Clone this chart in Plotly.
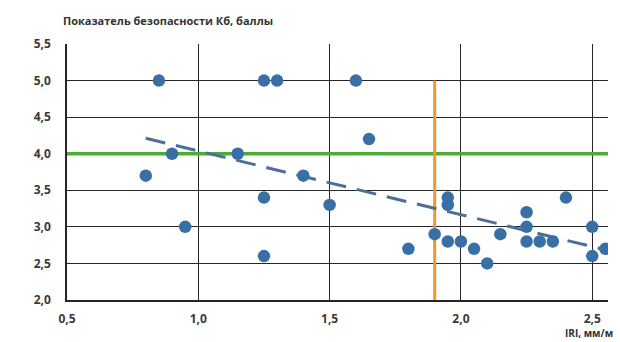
import numpy as np
import plotly.graph_objects as go

# Road roughness (IRI, mm/m) and safety score Kb (points)
iri = [0.85, 1.25, 1.30, 1.60, 1.65, 1.15, 0.90, 0.80, 1.40, 1.25, 1.50, 0.95, 1.25,
       1.95, 1.95, 1.90, 1.80, 1.95, 2.00, 2.05, 2.10, 2.15, 2.25, 2.25, 2.25,
       2.30, 2.35, 2.40, 2.50, 2.50, 2.55]
kb = [5.0, 5.0, 5.0, 5.0, 4.2, 4.0, 4.0, 3.7, 3.7, 3.4, 3.3, 3.0, 2.6,
      3.4, 3.3, 2.9, 2.7, 2.8, 2.8, 2.7, 2.5, 2.9, 3.2, 3.0, 2.8,
      2.8, 2.8, 3.4, 3.0, 2.6, 2.7]

kb_threshold = 4.0
iri_threshold = 1.9
x_range = [0.5, 2.56]
y_range = [2.0, 5.5]
x_ticks = [0.5, 1.0, 1.5, 2.0, 2.5]
y_ticks = [2.0, 2.5, 3.0, 3.5, 4.0, 4.5, 5.0, 5.5]

def comma(v):
    return f"{v:.1f}".replace(".", ",")

# Linear trend of the score against roughness
slope, intercept = np.polyfit(iri, kb, 1)
trend_x = np.array([min(iri), max(iri)])
trend_y = slope * trend_x + intercept

font = "Open Sans"
grid_col = "#262626"

fig = go.Figure()

fig.add_trace(go.Scatter(
    x=x_range, y=[kb_threshold, kb_threshold], mode="lines",
    line=dict(color="#4cad34", width=3.5), hoverinfo="skip", showlegend=False))

fig.add_trace(go.Scatter(
    x=[iri_threshold, iri_threshold], y=[y_range[0], 5.0], mode="lines",
    line=dict(color="#f5962a", width=3), hoverinfo="skip", showlegend=False))

fig.add_trace(go.Scatter(
    x=trend_x, y=trend_y, mode="lines",
    line=dict(color="#4b6f97", width=3, dash="20px,11px"),
    hoverinfo="skip", showlegend=False))

fig.add_trace(go.Scatter(
    x=iri, y=kb, mode="markers",
    marker=dict(color="#3a6fa6", size=12.5, line=dict(width=0)),
    showlegend=False))

fig.update_xaxes(
    range=x_range, tickvals=x_ticks, ticktext=[comma(v) for v in x_ticks],
    showgrid=True, gridcolor=grid_col, gridwidth=1.4,
    showline=True, linecolor=grid_col, linewidth=1.6,
    zeroline=False, ticks="", ticklabelstandoff=7,
    tickfont=dict(family=font, size=12, color="#3a3a3a", weight="bold"))

fig.update_yaxes(
    range=y_range, tickvals=y_ticks, ticktext=[comma(v) for v in y_ticks],
    showgrid=True, gridcolor=grid_col, gridwidth=1.4,
    showline=True, linecolor=grid_col, linewidth=1.6,
    zeroline=False, ticks="", ticklabelstandoff=12,
    tickfont=dict(family=font, size=12, color="#3a3a3a", weight="bold"))

fig.update_layout(
    width=620, height=342,
    margin=dict(l=67, r=12, t=44, b=42),
    plot_bgcolor="white", paper_bgcolor="white",
    annotations=[
        dict(text="<b>Показатель безопасности Кб, баллы</b>",
             xref="paper", yref="paper", x=0, y=1, xshift=-6, yshift=14,
             xanchor="left", yanchor="bottom", showarrow=False,
             font=dict(family=font, size=11, color="#333333")),
        dict(text="<b>IRI, мм/м</b>",
             xref="paper", yref="paper", x=1, y=0, xshift=6, yshift=-41,
             xanchor="right", yanchor="bottom", showarrow=False, borderpad=0,
             font=dict(family=font, size=10, color="#333333")),
    ],
)

fig.write_html("out.html")
